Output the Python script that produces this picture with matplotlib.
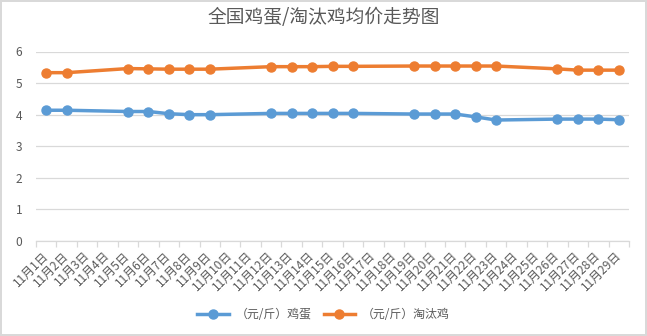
import numpy as np
import matplotlib.pyplot as plt
from matplotlib.lines import Line2D

plt.rcParams['font.family'] = ['Noto Sans CJK SC', 'DejaVu Sans']

# 11月1日 .. 11月29日, weekends have no quote (None)
days = [f"11月{d}日" for d in range(1, 30)]
egg = [4.14, 4.14, None, None, 4.10, 4.10, 4.03, 4.00, 4.00, None, None,
       4.04, 4.04, 4.04, 4.04, 4.04, None, None, 4.02, 4.02, 4.02, 3.93,
       3.83, None, None, 3.86, 3.86, 3.86, 3.84]
hen = [5.33, 5.33, None, None, 5.46, 5.45, 5.44, 5.44, 5.44, None, None,
       5.52, 5.52, 5.52, 5.53, 5.53, None, None, 5.54, 5.54, 5.54, 5.54,
       5.54, None, None, 5.45, 5.41, 5.41, 5.41]
series_names = ["（元/斤）鸡蛋", "（元/斤）淘汰鸡"]
colors = ["#5B9BD5", "#ED7D31"]
y_ticks = [0, 1, 2, 3, 4, 5, 6]

grey = "#595959"

fig = plt.figure(figsize=(6.47, 3.36), dpi=100)
fig.patch.set_edgecolor("#d9d9d9")
fig.patch.set_linewidth(1.5)
ax = fig.add_axes([36 / 647, 1 - 241 / 336, (629 - 36) / 647, (241 - 51.5) / 336])

x = np.arange(len(days))
handles = []
for vals, name, c in zip([egg, hen], series_names, colors):
    pts = [(i, v) for i, v in zip(x, vals) if v is not None]
    xs, ys = zip(*pts)
    ax.plot(xs, ys, color=c, lw=2.5, marker="o", ms=6.5, solid_capstyle="round")
    handles.append(Line2D([], [], color=c, lw=2.5, marker="o", ms=6.5, label=name))

ax.set_xlim(-0.5, len(days) - 0.5)
ax.set_ylim(0, 6)
ax.set_yticks(y_ticks)
ax.grid(axis="y", color="#d9d9d9", lw=0.9)
ax.set_axisbelow(True)
for s in ["top", "right", "left"]:
    ax.spines[s].set_visible(False)
ax.spines["bottom"].set_color("#d9d9d9")
ax.spines["bottom"].set_linewidth(0.9)

ax.set_xticks(x)
ax.set_xticklabels(days, rotation=45, ha="right", va="center", rotation_mode="anchor")
ax.set_xticks(np.arange(-0.5, len(days)), minor=True)
ax.tick_params(axis="x", which="major", length=0, pad=9, labelsize=8.6, labelcolor=grey)
ax.tick_params(axis="x", which="minor", length=4, color="#d9d9d9", width=0.9)
ax.tick_params(axis="y", length=0, pad=10, labelsize=8.6, labelcolor=grey)

fig.text(0.5, 1 - 18 / 336, "全国鸡蛋/淘汰鸡均价走势图", ha="center", va="center",
         fontsize=13.5, color=grey)

fig.legend(handles=handles, loc="center", bbox_to_anchor=(0.5, 1 - 315 / 336), ncol=2,
           frameon=False, fontsize=8.6, labelcolor=grey, handlelength=2.6,
           columnspacing=1.0, handletextpad=0.6)

fig.savefig("out.png", dpi=100)
